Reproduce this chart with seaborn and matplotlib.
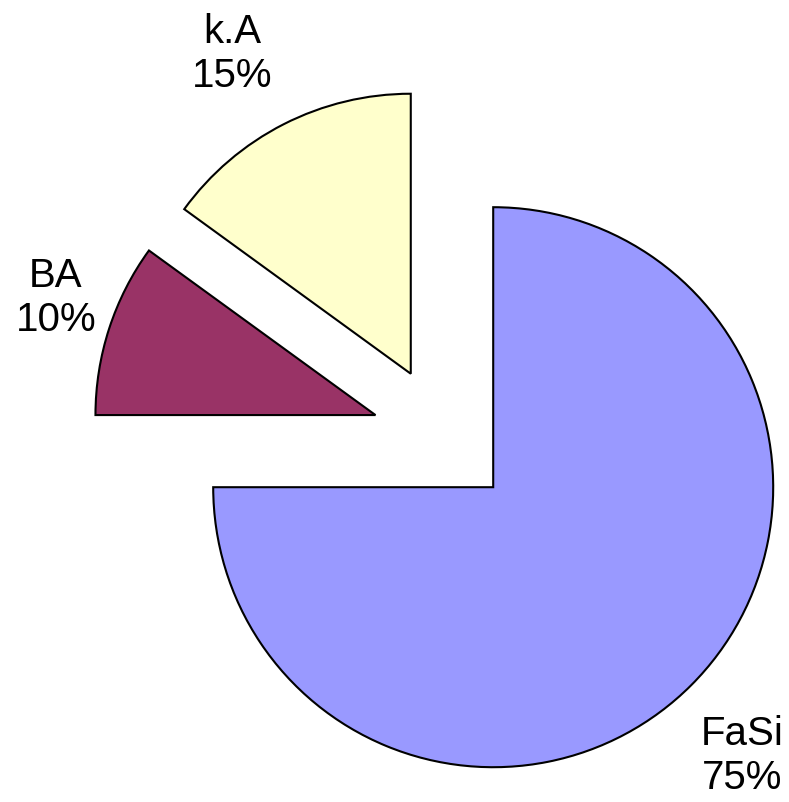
import matplotlib
matplotlib.use("Agg")
import matplotlib.pyplot as plt
import seaborn as sns
import numpy as np

sns.set_theme(style="white")
plt.rcParams['font.family'] = ['Liberation Sans', 'DejaVu Sans']

categories = ["FaSi", "BA", "k.A"]
values = [75, 10, 15]
colors = ["#9999FF", "#993366", "#FFFFCC"]

W, H = 789, 802
fig = plt.figure(figsize=(W / 100, H / 100), dpi=100)
ax = fig.add_axes([0, 0, 1, 1])

total = sum(values)
labels = [f"{c}\n{round(v / total * 100)}%" for c, v in zip(categories, values)]

wedges, texts = ax.pie(
    values,
    colors=colors,
    labels=labels,
    startangle=90,
    counterclock=False,
    center=(443, H - 437),
    radius=280,
    explode=[71] * len(values),
    labeldistance=1.3,
    wedgeprops=dict(edgecolor="black", linewidth=1.5),
    textprops=dict(fontsize=29, color="black"),
    frame=True,
)
ax.set_xlim(0, W)
ax.set_ylim(0, H)
ax.set_aspect("equal")
ax.axis("off")

# label placement: (distance factor, angle in degrees) relative to each wedge's centre
label_place = {"FaSi": (1.31, -47.2), "BA": (1.215, 159.9), "k.A": (1.31, 119.2)}
for w, t, c in zip(wedges, texts, categories):
    f, ang = label_place[c]
    th = np.deg2rad(ang)
    cx, cy = w.center
    d = f * w.r
    t.set_position((cx + d * np.cos(th), cy + d * np.sin(th)))
    t.set_ha("center")
    t.set_va("center")
    t.set_multialignment("center")

fig.savefig("out.png", dpi=100)
